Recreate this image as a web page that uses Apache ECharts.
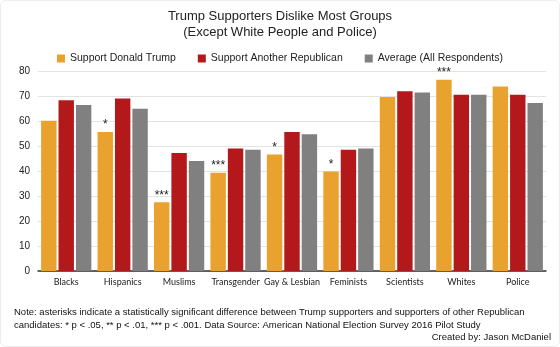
<!DOCTYPE html>
<html><head><meta charset="utf-8">
<script src="https://cdn.jsdelivr.net/npm/echarts@6/dist/echarts.min.js"></script>
<style>
html,body{margin:0;padding:0;background:#fff;}
#c{width:560px;height:347px;box-sizing:border-box;border:1px solid #ececec;border-radius:6px;}
</style></head><body>
<div id="c"></div>
<script>
const categories = ["Blacks","Hispanics","Muslims","Transgender","Gay & Lesbian","Feminists","Scientists","Whites","Police"];
const trump = [60.1, 55.6, 27.5, 39.3, 46.6, 39.8, 69.6, 76.5, 73.8];
const otherRep = [68.3, 69.0, 47.2, 49.0, 55.6, 48.5, 71.9, 70.5, 70.5];
const average = [66.4, 64.9, 44.0, 48.5, 54.7, 49.0, 71.4, 70.5, 67.2];
const significance = ["", "*", "***", "***", "*", "*", "", "***", ""];
const yTicks = [0, 10, 20, 30, 40, 50, 60, 70, 80];

const chart = echarts.init(document.getElementById('c'), null, {renderer: 'canvas'});
const font = 'Liberation Sans, Arial, Helvetica, sans-serif';
chart.setOption({
  animation: false,
  title: {
    text: 'Trump Supporters Dislike Most Groups\n(Except White People and Police)',
    left: 'center', top: 2,
    textStyle: {fontFamily: font, fontSize: 13, fontWeight: 'normal', color: '#222', lineHeight: 16}
  },
  legend: {
    top: 47, left: 'center',
    itemWidth: 8, itemHeight: 8, itemGap: 22,
    icon: 'rect',
    textStyle: {fontFamily: font, fontSize: 10.5, color: '#222'},
    data: ['Support Donald Trump', 'Support Another Republican', 'Average (All Respondents)']
  },
  grid: {left: 37, right: 13, top: 70, bottom: 75, containLabel: false},
  xAxis: {
    type: 'category', data: categories,
    axisLine: {lineStyle: {color: '#333', width: 1.5}},
    axisTick: {show: false},
    axisLabel: {fontFamily: 'Lato, sans-serif', fontSize: 9, color: '#222', margin: 7, interval: 0}
  },
  yAxis: {
    type: 'value', min: yTicks[0], max: yTicks[yTicks.length-1], interval: 10,
    axisLine: {show: false}, axisTick: {show: false},
    splitLine: {lineStyle: {color: '#e3e3e3', width: 1}},
    axisLabel: {fontFamily: font, fontSize: 10, color: '#222', margin: 8}
  },
  series: [
    {name: 'Support Donald Trump', type: 'bar', data: trump, itemStyle: {color: '#EAA22E'},
     barCategoryGap: '11%', barGap: '13%',
     label: {show: true, position: 'top', distance: 1, fontFamily: font, fontSize: 12, color: '#222',
       formatter: p => significance[p.dataIndex]}},
    {name: 'Support Another Republican', type: 'bar', data: otherRep, itemStyle: {color: '#B3191B'},
     barCategoryGap: '11%', barGap: '13%'},
    {name: 'Average (All Respondents)', type: 'bar', data: average, itemStyle: {color: '#808080'},
     barCategoryGap: '11%', barGap: '13%'}
  ],
  graphic: [
    {type: 'text', left: 13, top: 305, style: {
      text: 'Note: asterisks indicate a statistically significant difference between Trump supporters and supporters of other Republican\ncandidates: * p < .05, ** p < .01, *** p < .001. Data Source: American National Election Survey 2016 Pilot Study',
      font: '9.5px ' + font, fill: '#111', lineHeight: 13}},
    {type: 'text', right: 8, top: 331, style: {
      text: 'Created by: Jason McDaniel', font: '9.5px ' + font, fill: '#111', textAlign: 'right'}}
  ]
});
</script>
</body></html>
